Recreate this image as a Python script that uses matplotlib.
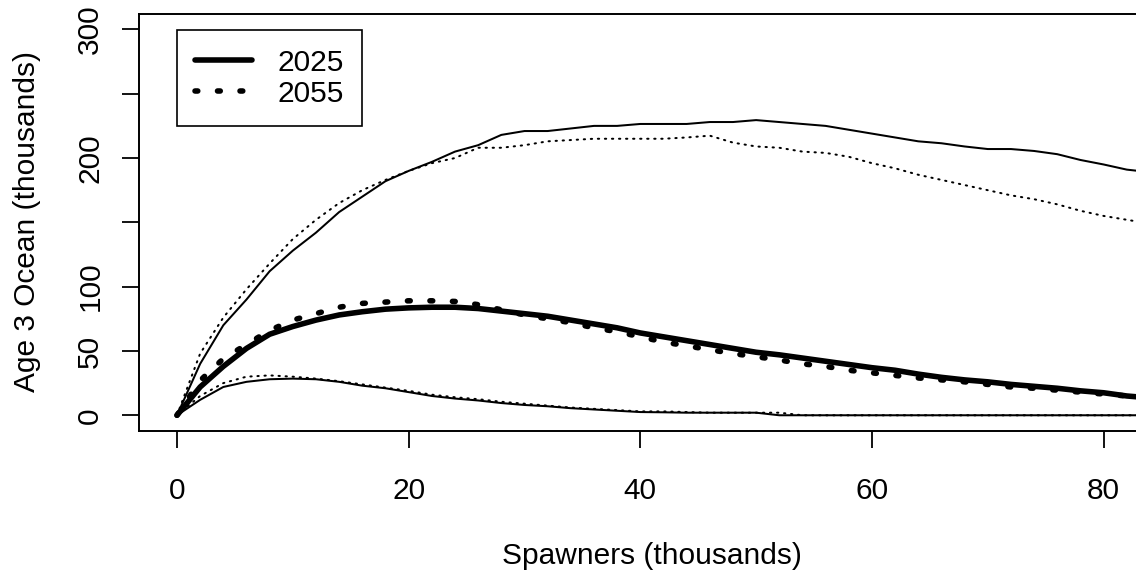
import numpy as np
import matplotlib
matplotlib.use("Agg")
import matplotlib.pyplot as plt
from matplotlib.lines import Line2D

plt.rcParams['font.family'] = ['Liberation Sans', 'DejaVu Sans']

# spawners (thousands), sampled every 2
spawners = np.arange(0, 88, 2)

# 2025 projections: upper band, median, lower band
upper_2025 = [0, 40, 70, 90, 112, 128, 142, 158, 170, 182, 190, 197, 205, 210, 218,
              221, 221, 223, 225, 225, 226.5, 226.5, 226.5, 228, 228, 229.5, 228,
              226.5, 225, 222, 219, 216, 213, 211.5, 209, 207, 207, 205.5, 203,
              198.5, 195, 191, 189, 186]
median_2025 = [0, 22, 38, 52, 63, 69, 74, 78, 80.5, 82.5, 83.5, 84, 84, 83, 81, 79,
               77, 74, 71, 68, 64, 61, 58, 55, 52, 49, 47, 44.5, 42, 39.5, 37, 35,
               32, 29.5, 27.5, 26, 24, 22.5, 21, 19, 17.5, 15, 13.5, 12]
lower_2025 = [0, 12, 22, 26, 28, 28.5, 28, 26, 23, 21, 18, 15, 13, 11.5, 9.5, 8, 7,
              5.5, 4.5, 3.5, 2.5, 2.3, 2, 2, 2, 2, 0, 0, 0, 0, 0, 0, 0, 0, 0, 0, 0,
              0, 0, 0, 0, 0, 0, 0]

# 2055 projections
upper_2055 = [0, 48, 76, 98, 118, 137, 152, 165, 175, 183, 190, 196, 200, 208, 208,
              210, 213, 214, 215, 215, 215, 215, 216, 217.4, 212, 209, 208, 205,
              204, 201, 196, 192, 187, 183, 179, 175, 171, 168, 164, 159, 155, 152,
              149, 146]
median_2055 = [0, 27, 44, 55, 66, 74, 79, 84, 87, 88, 89, 89, 88.5, 86, 82, 78, 75,
               72, 68, 65, 61, 57, 54, 51, 48, 45.5, 43, 40, 38, 35, 33, 31, 29,
               27.5, 26, 24, 22, 21, 19.5, 18, 16.5, 15, 13.5, 12]
lower_2055 = [0, 15, 25, 30, 31, 30, 28.5, 26.5, 24, 21.5, 19, 16, 14, 12.5, 10.5, 9,
              7.5, 6, 5, 4, 3, 3, 2.5, 2, 2, 2, 2, 0, 0, 0, 0, 0, 0, 0, 0, 0, 0, 0,
              0, 0, 0, 0, 0, 0]

years = ["2025", "2055"]
y_ticks = [0, 50, 100, 150, 200, 250, 300]
y_labels = ["0", "50", "100", "", "200", "", "300"]
x_ticks = [0, 20, 40, 60, 80]

W, H = 1136, 578
FS = 21.5
fig = plt.figure(figsize=(W / 100, H / 100), dpi=100)
ax = fig.add_axes([139 / W, (H - 430.7) / H, 1026 / W, 416.7 / H])

thin, thick = 1.45, 4.0
thin_dots = (0.65, 2.85)
thick_dots = (0.5, 3.55)

ax.plot(spawners, upper_2025, color='black', lw=thin, solid_capstyle='round')
ax.plot(spawners, lower_2025, color='black', lw=thin, solid_capstyle='round')
ax.plot(spawners, median_2025, color='black', lw=thick, solid_capstyle='round')
ax.plot(spawners, upper_2055, color='black', lw=thin, dashes=thin_dots,
        dash_capstyle='round')
ax.plot(spawners, lower_2055, color='black', lw=thin, dashes=thin_dots,
        dash_capstyle='round')
ax.plot(spawners, median_2055, color='black', lw=thick, dashes=thick_dots,
        dash_capstyle='round')

ax.set_xlim(-3.28, 85.3)
ax.set_ylim(-12, 312)
ax.set_xticks(x_ticks)
ax.set_yticks(y_ticks)
ax.set_yticklabels(y_labels, rotation=90, va='center')
ax.tick_params(axis='both', length=12, width=1.3, labelsize=FS, color='black')
ax.tick_params(axis='x', pad=21)
ax.tick_params(axis='y', pad=13)
for s in ax.spines.values():
    s.set_linewidth(1.4)

handles = [Line2D([], [], color='black', lw=thick, solid_capstyle='round'),
           Line2D([], [], color='black', lw=thick, dashes=thick_dots,
                  dash_capstyle='round')]
leg = ax.legend(handles, years, loc='upper left', bbox_to_anchor=(0.037, 0.9616),
                borderaxespad=0, fontsize=FS, handlelength=1.9, handletextpad=0.85,
                borderpad=0.62, labelspacing=0.1, fancybox=False, framealpha=1,
                edgecolor='black')
leg.get_frame().set_linewidth(1.2)

fig.text(652 / W, 1 - 556 / H, "Spawners (thousands)", ha='center', va='center',
         fontsize=FS)
fig.text(27 / W, 1 - 222 / H, "Age 3 Ocean (thousands)", ha='center', va='center',
         rotation=90, fontsize=FS)

fig.savefig("out.png", dpi=100)
